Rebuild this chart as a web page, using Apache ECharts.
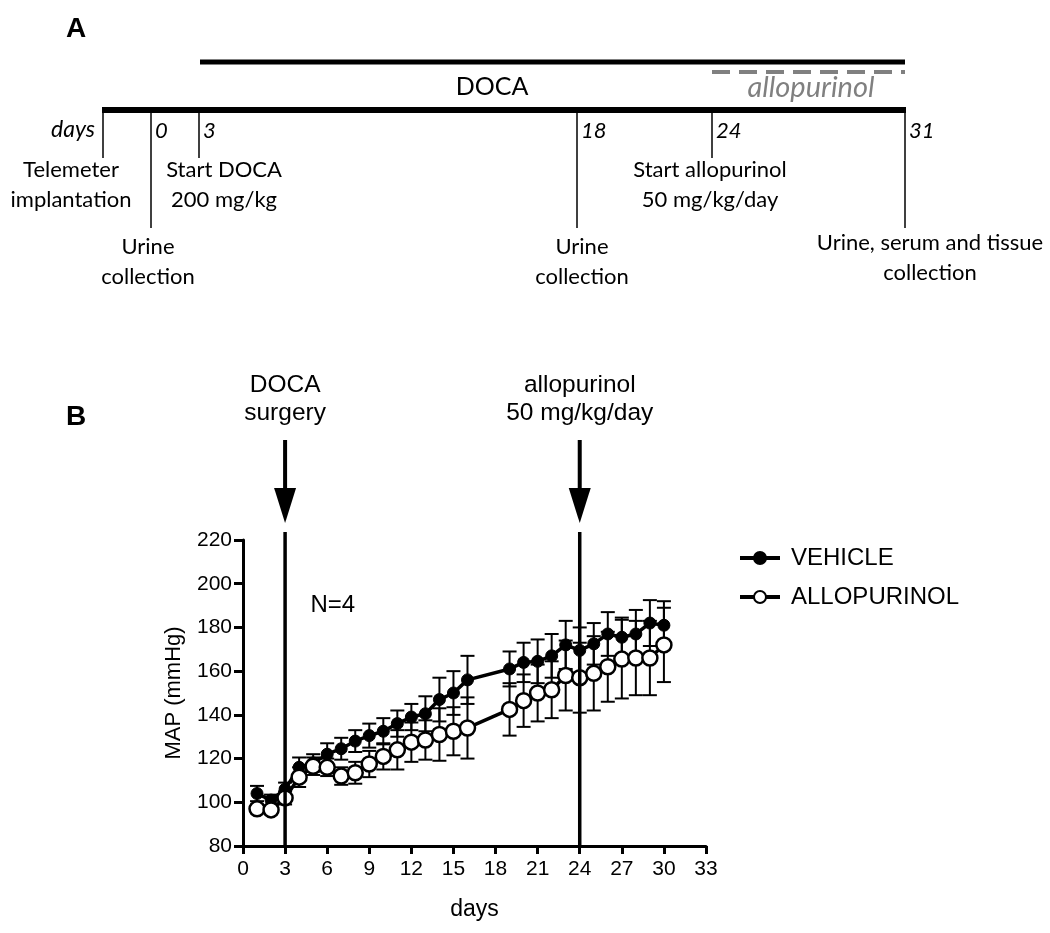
<!DOCTYPE html>
<html><head><meta charset="utf-8">
<script src="https://cdn.jsdelivr.net/npm/echarts@6/dist/echarts.min.js"></script>
<style>html,body{margin:0;padding:0;background:#fff}#c{width:1050px;height:933px}</style>
</head><body><div id="c"></div>
<script>
// ---- Panel B data ----
const days = [1,2,3,4,5,6,7,8,9,10,11,12,13,14,15,16,19,20,21,22,23,24,25,26,27,28,29,30];
const vehicleMean = [104,101,106,116,118,122,124.5,128,130.5,132.5,136,139,140.5,147,150,156,161,164,164.5,167,172,169.5,172.5,177,175.5,177,182,181];
const vehicleSem  = [3.5,2.5,3,4.5,4,5,5,5,5.5,6,6,6,8,10,10,11,8,9,10,10,11,10.5,9.5,10,9,11,10.5,11];
const alloMean = [97,96.5,102,111.5,116.5,116,112,113.5,117.5,121,124,127.5,128.5,131,132.5,134,142.5,146.5,150,151.5,158,157,159,162,165.5,166,166,172];
const alloSem  = [2,2,3,4.5,4,4,4,5,6,6,9,9,9,12,11,14,12,12,13,13,16,16,17,16,18,17,17,17];
const seriesNames = ['VEHICLE','ALLOPURINOL'];
const xTickMin = 0, xTickMax = 33, xTickStep = 3;
const yTickMin = 80, yTickMax = 220, yTickStep = 20;
const eventDays = [3, 24];
const eventLabels = ['DOCA\nsurgery', 'allopurinol\n50 mg/kg/day'];

// ---- Panel A (schematic timeline) ----
const tlTicks = [
  {label:'days', x:103, long:false, labelLeft:true},
  {label:'0', x:151, long:true},
  {label:'3', x:199, long:false},
  {label:'18', x:577, long:true},
  {label:'24', x:712, long:false},
  {label:'31', x:905, long:true}
];
const tlTexts = [
  {text:'Telemeter\nimplantation', x:71, y:185},
  {text:'Start DOCA\n200 mg/kg', x:224, y:185},
  {text:'Start allopurinol\n50 mg/kg/day', x:710, y:185},
  {text:'Urine\ncollection', x:148, y:262},
  {text:'Urine\ncollection', x:582, y:262},
  {text:'Urine, serum and tissue\ncollection', x:930, y:258}
];

const FB = "'Liberation Sans', Arial, sans-serif";
const FA = "Lato, 'Open Sans', sans-serif";

const chart = echarts.init(document.getElementById('c'), null, {renderer:'canvas'});

function errRender(params, api){
  const x = api.value(0), m = api.value(1), s = api.value(2);
  const t = api.coord([x, m + s]), b = api.coord([x, m - s]);
  const hw = 7, st = {stroke:'#000', lineWidth:2};
  return {type:'group', children:[
    {type:'line', shape:{x1:t[0],y1:t[1],x2:b[0],y2:b[1]}, style:st},
    {type:'line', shape:{x1:t[0]-hw,y1:t[1],x2:t[0]+hw,y2:t[1]}, style:st},
    {type:'line', shape:{x1:b[0]-hw,y1:b[1],x2:b[0]+hw,y2:b[1]}, style:st}
  ]};
}

const vData = days.map((d,i)=>[d, vehicleMean[i]]);
const aData = days.map((d,i)=>[d, alloMean[i]]);
const vErr = days.map((d,i)=>[d, vehicleMean[i], vehicleSem[i]]);
const aErr = days.map((d,i)=>[d, alloMean[i], alloSem[i]]);

chart.setOption({
  animation:false,
  backgroundColor:'#fff',
  grid:{left:243, top:540, width:463, height:306, containLabel:false},
  xAxis:{type:'value', min:xTickMin, max:xTickMax, interval:xTickStep,
    name:'days', nameLocation:'middle', nameGap:52,
    nameTextStyle:{fontFamily:FB, fontSize:23, color:'#000'},
    axisLine:{onZero:false, lineStyle:{color:'#000', width:3}},
    axisTick:{show:true, length:8, lineStyle:{color:'#000', width:3}},
    axisLabel:{fontFamily:FB, fontSize:21, color:'#000', margin:13},
    splitLine:{show:false}},
  yAxis:{type:'value', min:yTickMin, max:yTickMax, interval:yTickStep,
    name:'MAP (mmHg)', nameLocation:'middle', nameGap:58, nameRotate:90,
    nameTextStyle:{fontFamily:FB, fontSize:22, color:'#000'},
    axisLine:{show:true, onZero:false, lineStyle:{color:'#000', width:3}},
    axisTick:{show:true, length:9, lineStyle:{color:'#000', width:3}},
    axisLabel:{fontFamily:FB, fontSize:21, color:'#000', margin:11},
    splitLine:{show:false}},
  legend:{orient:'vertical', left:733, top:541, itemWidth:40, itemHeight:15, itemGap:15,
    data:seriesNames, lineStyle:{width:4},
    textStyle:{fontFamily:FB, fontSize:24, color:'#000', padding:[0,0,0,6]}},
  series:[
    {type:'custom', name:'vErr', renderItem:errRender, data:vErr, encode:{x:0,y:1}, z:1, silent:true},
    {type:'custom', name:'aErr', renderItem:errRender, data:aErr, encode:{x:0,y:1}, z:1, silent:true},
    {type:'line', name:seriesNames[0], data:vData, symbol:'circle', symbolSize:12,
      lineStyle:{color:'#000', width:3.5}, itemStyle:{color:'#000', borderColor:'#000', borderWidth:1}, z:3},
    {type:'line', name:seriesNames[1], data:aData, symbol:'circle', symbolSize:15,
      lineStyle:{color:'#000', width:3.5}, itemStyle:{color:'#fff', borderColor:'#000', borderWidth:2.5}, z:4}
  ]
});

// ---- graphics ----
const g = [];
// panel letters
g.push({type:'text', left:66, top:15, style:{text:'A', font:"bold 28px "+FB, fill:'#000'}});
g.push({type:'text', left:66, top:403, style:{text:'B', font:"bold 28px "+FB, fill:'#000'}});
// Panel A
g.push({type:'line', shape:{x1:200,y1:62,x2:905,y2:62}, style:{stroke:'#000', lineWidth:5}});
g.push({type:'line', shape:{x1:712,y1:72,x2:905,y2:72}, style:{stroke:'#808080', lineWidth:4, lineDash:[18,9]}});
g.push({type:'text', x:492, y:87, style:{text:'DOCA', font:"25px "+FA, fill:'#000', textAlign:'center', textVerticalAlign:'middle'}});
g.push({type:'text', x:811, y:88, style:{text:'allopurinol', font:"italic 29px "+FA, fill:'#808080', textAlign:'center', textVerticalAlign:'middle'}});
g.push({type:'line', shape:{x1:102,y1:110,x2:906,y2:110}, style:{stroke:'#000', lineWidth:6}});
tlTicks.forEach(t=>{
  g.push({type:'line', shape:{x1:t.x,y1:110,x2:t.x,y2:t.long?228:158}, style:{stroke:'#000', lineWidth:1.5}});
  if (t.labelLeft) {
    g.push({type:'text', x:t.x-8, y:130, style:{text:t.label, font:"italic 23px "+FA, fill:'#000', textAlign:'right', textVerticalAlign:'middle'}});
  } else {
    g.push({type:'text', x:t.x+4, y:131, style:{text:t.label, font:"italic 22px "+FA, fill:'#000', textAlign:'left', textVerticalAlign:'middle'}});
  }
});
tlTexts.forEach(t=>{
  g.push({type:'text', x:t.x, y:t.y, style:{text:t.text, font:"22px "+FA, fill:'#000', textAlign:'center', textVerticalAlign:'middle', lineHeight:30}});
});
// Panel B event lines & arrows
eventDays.forEach((d,i)=>{
  const bot = chart.convertToPixel({gridIndex:0}, [d, yTickMin]);
  const top = chart.convertToPixel({gridIndex:0}, [d, yTickMax]);
  const x = bot[0];
  g.push({type:'line', shape:{x1:x,y1:top[1]-8,x2:x,y2:bot[1]}, style:{stroke:'#000', lineWidth:3.5}, z:5});
  const tip = top[1]-17;
  g.push({type:'line', shape:{x1:x,y1:tip-83,x2:x,y2:tip-30}, style:{stroke:'#000', lineWidth:4}});
  g.push({type:'polygon', shape:{points:[[x-11,tip-35],[x+11,tip-35],[x,tip]]}, style:{fill:'#000'}});
  g.push({type:'text', x:x, y:top[1]-141, style:{text:eventLabels[i], font:"24.5px "+FB, fill:'#000', textAlign:'center', textVerticalAlign:'middle', lineHeight:28}});
});
const nPos = chart.convertToPixel({gridIndex:0}, [6.4, 190]);
g.push({type:'text', x:nPos[0], y:nPos[1], style:{text:'N=4', font:"24px "+FB, fill:'#000', textAlign:'center', textVerticalAlign:'middle'}});

chart.setOption({graphic:g});
</script></body></html>
